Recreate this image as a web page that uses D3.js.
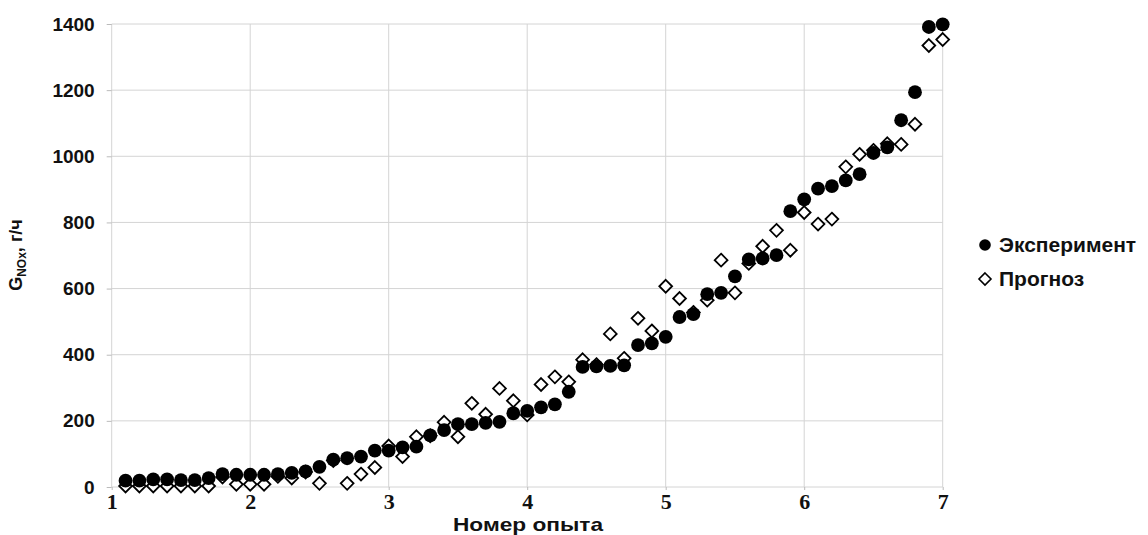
<!DOCTYPE html>
<html>
<head>
<meta charset="utf-8">
<script src="https://cdn.jsdelivr.net/npm/d3@7"></script>
<style>
  html, body { margin: 0; padding: 0; background: #fff; }
  svg { display: block; }
</style>
</head>
<body>
<svg id="chart" width="1148" height="535"></svg>
<script>
// Experiment numbers (x values)
const runs = [1.1,1.2,1.3,1.4,1.5,1.6,1.7,1.8,1.9,2.0,2.1,2.2,2.3,2.4,2.5,2.6,2.7,2.8,2.9,3.0,
              3.1,3.2,3.3,3.4,3.5,3.6,3.7,3.8,3.9,4.0,4.1,4.2,4.3,4.4,4.5,4.6,4.7,4.8,4.9,5.0,
              5.1,5.2,5.3,5.4,5.5,5.6,5.7,5.8,5.9,6.0,6.1,6.2,6.3,6.4,6.5,6.6,6.7,6.8,6.9,7.0];
// Эксперимент, g/h
const experiment = [19,19,23,23,21,21,27,39,37,37,37,39,43,47,61,83,87,92,110,110,
                    120,122,156,172,190,190,194,197,223,230,241,250,288,363,365,366,368,429,434,454,
                    514,523,583,587,637,688,691,701,834,870,902,910,927,946,1010,1027,1109,1194,1391,1399];
// Прогноз, g/h
const forecast = [3,3,3,3,3,3,3,30,8,8,8,32,27,45,11,80,11,39,59,124,
                  92,152,155,196,152,253,220,298,261,218,310,333,318,385,370,463,389,510,472,607,
                  570,528,565,686,587,676,728,776,716,830,795,810,968,1006,1018,1038,1036,1097,1335,1353];
const xTicks = [1,2,3,4,5,6,7];
const yTicks = [0,200,400,600,800,1000,1200,1400];
const seriesNames = ["Эксперимент", "Прогноз"];
const xTitle = "Номер опыта";

const svg = d3.select("#chart");
const pLeft = 111.7, pRight = 942.7, pTop = 24, pBottom = 487;

const x = d3.scaleLinear().domain([1, 7]).range([pLeft, pRight]);
const y = d3.scaleLinear().domain([0, 1400]).range([pBottom, pTop]);

// gridlines
const grid = svg.append("g");
grid.selectAll("line.v").data(xTicks).join("line").attr("class", "v")
  .attr("x1", d => x(d)).attr("x2", d => x(d))
  .attr("y1", pTop).attr("y2", pBottom)
  .attr("stroke", "#d4d4d4").attr("stroke-width", 1);
grid.selectAll("line.h").data(yTicks).join("line").attr("class", "h")
  .attr("x1", pLeft).attr("x2", pRight)
  .attr("y1", d => y(d)).attr("y2", d => y(d))
  .attr("stroke", "#d4d4d4").attr("stroke-width", 1);

// y axis
const yAxis = svg.append("g").attr("transform", `translate(${pLeft},0)`)
  .call(d3.axisLeft(y).tickValues(yTicks).tickSize(5).tickPadding(12).tickFormat(d3.format("d")));
yAxis.select(".domain").remove();
yAxis.selectAll(".tick line").attr("stroke", "#bbb");
yAxis.selectAll("text").attr("font-family", "Liberation Sans, Arial, sans-serif")
  .attr("font-weight", "bold").attr("font-size", 19).attr("fill", "#111");

// x axis
const xAxis = svg.append("g").attr("transform", `translate(0,${pBottom})`)
  .call(d3.axisBottom(x).tickValues(xTicks).tickSize(3).tickPadding(3).tickFormat(d3.format("d")));
xAxis.select(".domain").remove();
xAxis.selectAll(".tick line").attr("stroke", "#bbb");
xAxis.selectAll("text").attr("font-family", "Liberation Serif, 'Times New Roman', serif")
  .attr("font-weight", "bold").attr("font-size", 22).attr("fill", "#111");

// x title
svg.append("text").attr("x", 528).attr("y", 531).attr("text-anchor", "middle")
  .attr("font-family", "Liberation Sans, Arial, sans-serif").attr("font-weight", "bold")
  .attr("font-size", 19).attr("textLength", 150).attr("lengthAdjust", "spacingAndGlyphs")
  .attr("fill", "#111").text(xTitle);

// y title
const yt = svg.append("text").attr("transform", "translate(22,255) rotate(-90)")
  .attr("text-anchor", "middle")
  .attr("font-family", "Liberation Sans, Arial, sans-serif").attr("font-weight", "bold")
  .attr("font-size", 18).attr("fill", "#111");
yt.append("tspan").text("G");
yt.append("tspan").attr("font-size", 12).attr("dy", 4).text("NOx");
yt.append("tspan").attr("dy", -4).text(", г/ч");

const diamond = h => `M0,${-h}L${h},0L0,${h}L${-h},0Z`;
const data = runs.map((r, i) => ({ r, e: experiment[i], f: forecast[i] }));

// forecast diamonds (drawn first)
svg.append("g").selectAll("path").data(data).join("path")
  .attr("d", diamond(6.4))
  .attr("transform", d => `translate(${x(d.r)},${y(d.f)})`)
  .attr("fill", "#fff").attr("stroke", "#000").attr("stroke-width", 1.8);

// experiment circles
svg.append("g").selectAll("circle").data(data).join("circle")
  .attr("cx", d => x(d.r)).attr("cy", d => y(d.e)).attr("r", 6.9)
  .attr("fill", "#000");

// legend
const lg = svg.append("g");
lg.append("circle").attr("cx", 985).attr("cy", 245).attr("r", 5.8).attr("fill", "#000");
lg.append("path").attr("d", diamond(6)).attr("transform", "translate(985,279)")
  .attr("fill", "#fff").attr("stroke", "#000").attr("stroke-width", 1.6);
lg.selectAll("text").data(seriesNames).join("text")
  .attr("x", 999).attr("y", (d, i) => 245 + i * 34).attr("dy", "0.35em")
  .attr("font-family", "Liberation Sans, Arial, sans-serif").attr("font-weight", "bold")
  .attr("font-size", 21).attr("fill", "#111").text(d => d);
</script>
</body>
</html>
